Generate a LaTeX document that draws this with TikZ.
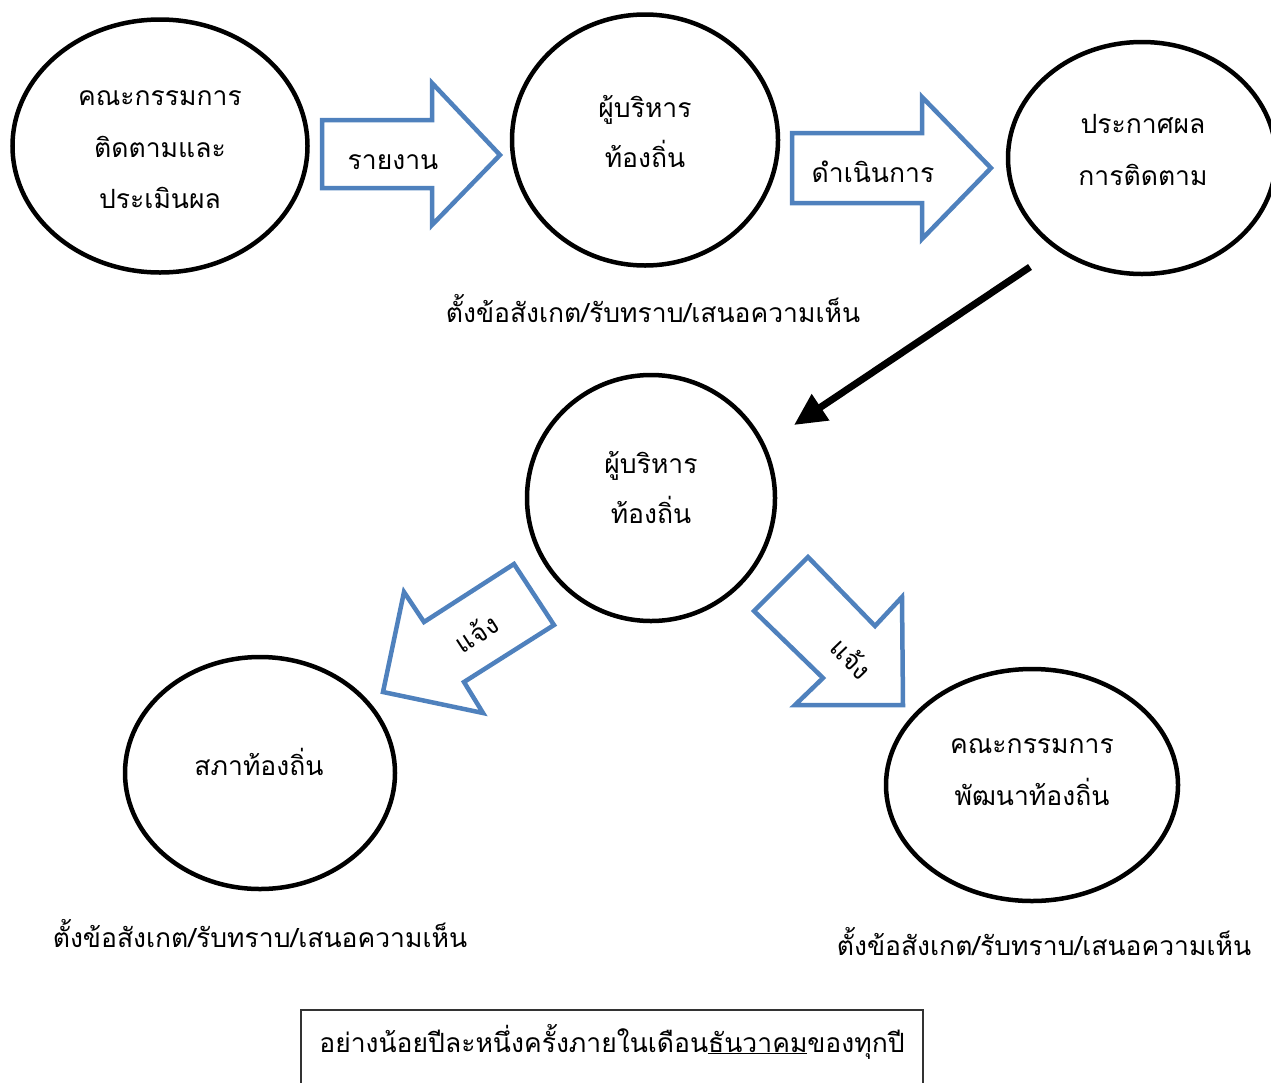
\documentclass[tikz,border=0pt]{standalone}
\usepackage{fontspec}
\newfontfamily\thaifont[Script=Thai]{Loma}
\usetikzlibrary{arrows.meta,shapes.geometric}
\definecolor{arrowblue}{RGB}{79,129,189}
\begin{document}
\begin{tikzpicture}[x=1pt,y=-1pt,
  ell/.style={draw=black, line width=4.5pt, ellipse, inner sep=0pt},
  txt/.style={font=\thaifont\fontsize{26.5}{30}\selectfont, inner sep=0pt, anchor=base},
  rtxt/.style={font=\thaifont\fontsize{26.5}{30}\selectfont, inner sep=0pt, anchor=center},
  blockarrow/.style={draw=arrowblue, line width=4.5pt, line join=miter, fill=white}]
\useasboundingbox (0,0) rectangle (1271,1082);
% ellipses
\node[ell, minimum width=295pt, minimum height=253pt] (e1) at (160,146) {};
\node[ell, minimum width=266pt, minimum height=251pt] (e2) at (645,140) {};
\node[ell, minimum width=268pt, minimum height=232pt] (e3) at (1142,158) {};
\node[ell, minimum width=248pt, minimum height=246pt] (e4) at (651,498) {};
\node[ell, minimum width=270pt, minimum height=232pt] (e5) at (260,773) {};
\node[ell, minimum width=292pt, minimum height=232pt] (e6) at (1032,785) {};
% ellipse texts
\node[txt] (t1a) at (160,105) {คณะกรรมการ};
\node[txt] (t1b) at (160,157) {ติดตามและ};
\node[txt] (t1c) at (160,208) {ประเมินผล};
\node[txt] (t2a) at (645,117) {ผู้บริหาร};
\node[txt] (t2b) at (645,167) {ท้องถิ่น};
\node[txt] (t3a) at (1143,133) {ประกาศผล};
\node[txt] (t3b) at (1143,185) {การติดตาม};
\node[txt] (t4a) at (651,473) {ผู้บริหาร};
\node[txt] (t4b) at (651,523) {ท้องถิ่น};
\node[txt] (t5a) at (259,775) {สภาท้องถิ่น};
\node[txt] (t6a) at (1032,753) {คณะกรรมการ};
\node[txt] (t6b) at (1032,805) {พัฒนาท้องถิ่น};
% block arrows
\draw[blockarrow] (322,120) -- (432,120) -- (432,83) -- (500,155) -- (432,225) -- (432,188) -- (322,188) -- cycle;
\node[txt] (la1) at (393,169) {รายงาน};
\draw[blockarrow] (792,133) -- (922,133) -- (922,97) -- (991,168) -- (922,239) -- (922,203) -- (792,203) -- cycle;
\node[txt] (la2) at (873,182) {ดำเนินการ};
\draw[blockarrow] (514,564) -- (554,625) -- (464,682) -- (483,713) -- (383,692) -- (404,592) -- (424,622) -- cycle;
\node[rtxt, rotate=33] (la3) at (476,633) {แจ้ง};
\draw[blockarrow] (808,557) -- (875,626) -- (902,597) -- (903,705) -- (795,705) -- (823,678) -- (754,611) -- cycle;
\node[rtxt, rotate=-46] (la4) at (852,658) {แจ้ง};
% black arrow
\coordinate (bs) at (1030,267);
\coordinate (bt) at (794,425);
\draw[line width=7pt, -{Triangle[length=32pt,width=30pt]}] (bs) -- (bt);
% comment labels
\node[txt] (c1) at (653,322) {ตั้งข้อสังเกต/รับทราบ/เสนอความเห็น};
\node[txt] (c2) at (260,947) {ตั้งข้อสังเกต/รับทราบ/เสนอความเห็น};
\node[txt] (c3) at (1044,955) {ตั้งข้อสังเกต/รับทราบ/เสนอความเห็น};
% bottom box
\draw[line width=1.2pt, draw=black!80] (301,1010) rectangle (923,1100);
\node[txt] (bx) at (612,1052) {อย่างน้อยปีละหนึ่งครั้งภายในเดือน\underline{ธันวาคม}ของทุกปี};
\end{tikzpicture}
\end{document}
